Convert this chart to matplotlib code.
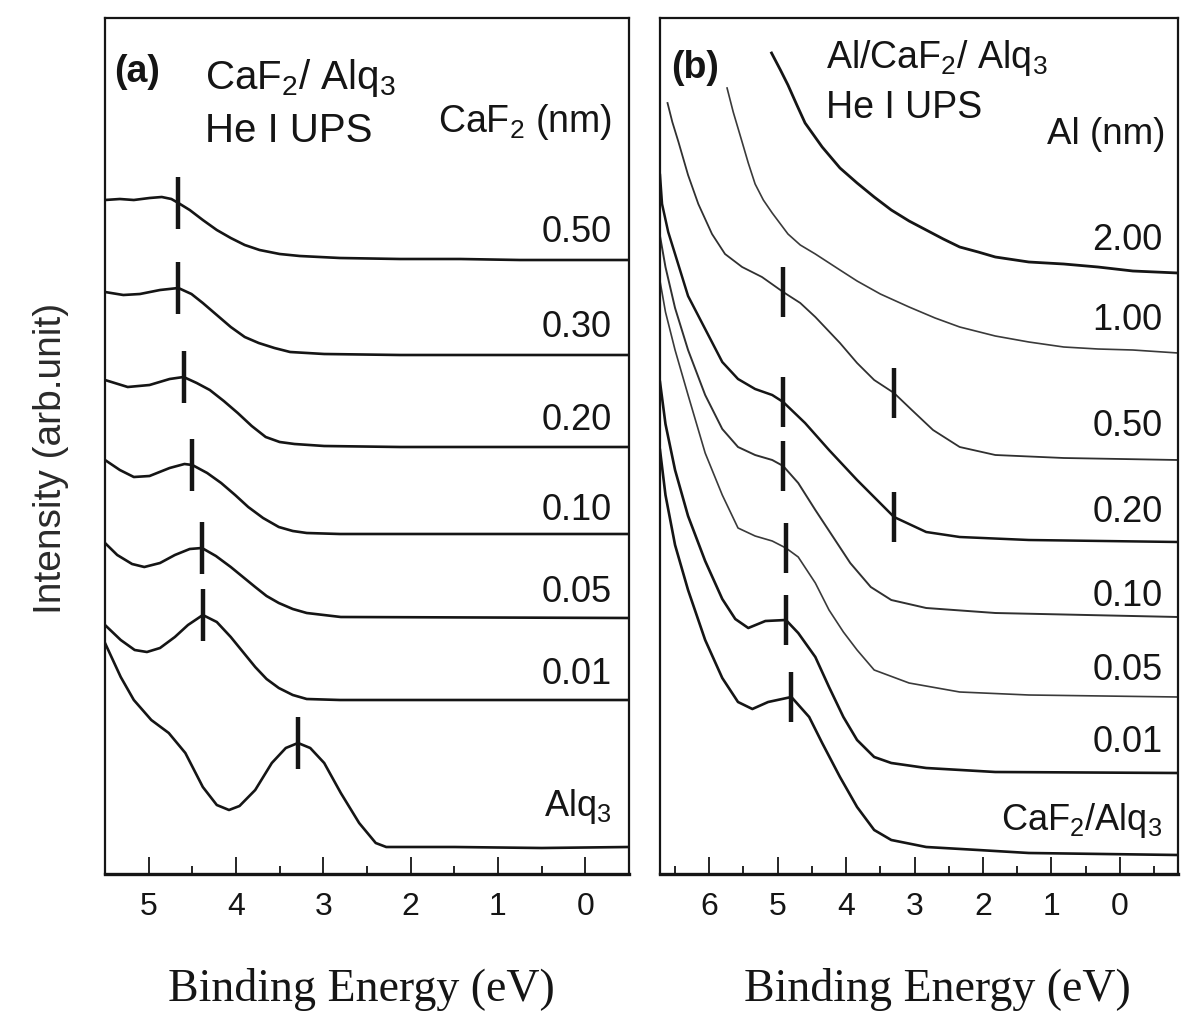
import numpy as np
import matplotlib
matplotlib.use('Agg')
import matplotlib.pyplot as plt

plt.rcParams['font.family'] = ['Liberation Sans', 'DejaVu Sans']
plt.rcParams['mathtext.default'] = 'regular'

# ---- panel (a): CaF2 on Alq3, binding energy (eV) vs intensity (arb.)
a_labels = ['0.50', '0.30', '0.20', '0.10', '0.05', '0.01', 'Alq$_3$']

a_050_be = [5.50, 5.33, 5.17, 4.99, 4.85, 4.74, 4.66, 4.53, 4.38, 4.22, 4.06, 3.90, 3.73, 3.50, 3.27, 2.81, 2.12, 1.43, 0.75, 0.06, -0.50]
a_050_int = [674, 675, 674, 676, 677, 675, 671, 664, 654, 644, 636, 629, 624, 620, 618, 616, 615, 615, 614, 614, 614]

a_030_be = [5.50, 5.29, 5.10, 4.87, 4.66, 4.51, 4.38, 4.22, 4.06, 3.90, 3.74, 3.56, 3.38, 2.99, 2.12, 0.97, -0.50]
a_030_int = [582, 579, 580, 584, 586, 580, 571, 559, 547, 537, 531, 526, 522, 520, 519, 519, 519]

a_020_be = [5.50, 5.24, 4.99, 4.76, 4.60, 4.45, 4.30, 4.14, 3.98, 3.82, 3.66, 3.50, 3.33, 2.99, 2.12, -0.50]
a_020_int = [494, 487, 489, 495, 497, 491, 484, 473, 461, 448, 437, 432, 430, 428, 427, 427]

a_010_be = [5.50, 5.33, 5.17, 4.99, 4.76, 4.59, 4.50, 4.33, 4.17, 4.01, 3.86, 3.69, 3.51, 3.35, 3.19, 2.81, -0.50]
a_010_int = [414, 404, 397, 398, 406, 410, 409, 401, 391, 379, 367, 356, 347, 343, 341, 340, 340]

a_005_be = [5.50, 5.36, 5.19, 5.05, 4.87, 4.70, 4.53, 4.39, 4.23, 4.06, 3.92, 3.78, 3.65, 3.51, 3.35, 3.19, 2.80, -0.50]
a_005_int = [331, 319, 310, 307, 311, 319, 325, 326, 318, 307, 297, 287, 278, 271, 265, 261, 257, 256]

a_001_be = [5.50, 5.32, 5.16, 5.02, 4.87, 4.70, 4.55, 4.38, 4.22, 4.06, 3.92, 3.78, 3.65, 3.51, 3.35, 3.19, 2.81, -0.50]
a_001_int = [249, 234, 224, 222, 226, 237, 249, 259, 252, 237, 222, 207, 195, 186, 179, 175, 174, 174]

a_alq_be = [5.50, 5.32, 5.17, 4.97, 4.77, 4.58, 4.38, 4.22, 4.08, 3.96, 3.78, 3.59, 3.43, 3.29, 3.15, 2.99, 2.80, 2.59, 2.40, 2.28, 1.50, 0.50, -0.50]
a_alq_int = [231, 197, 174, 154, 141, 121, 87, 69, 64, 68, 84, 111, 126, 131, 126, 111, 81, 51, 31, 27, 27, 26, 27]

a_marks = [4.66, 4.66, 4.60, 4.50, 4.39, 4.38, 3.29]

# ---- panel (b): Al on CaF2/Alq3
b_labels = ['2.00', '1.00', '0.50', '0.20', '0.10', '0.05', '0.01', 'CaF$_2$/Alq$_3$']

b_200_be = [5.09, 4.96, 4.85, 4.72, 4.60, 4.35, 4.09, 3.84, 3.59, 3.34, 3.08, 2.83, 2.58, 2.34, 2.07, 1.82, 1.33, 0.82, 0.32, -0.19, -0.85]
b_200_int = [821, 804, 789, 769, 751, 727, 706, 691, 677, 664, 653, 644, 635, 627, 622, 617, 612, 610, 607, 603, 601]

b_100_be = [5.74, 5.65, 5.52, 5.43, 5.33, 5.21, 5.08, 4.85, 4.67, 4.45, 4.09, 3.84, 3.50, 3.08, 2.70, 2.34, 1.82, 1.33, 0.82, 0.32, -0.19, -0.85]
b_100_int = [786, 762, 732, 711, 690, 674, 661, 640, 629, 620, 604, 593, 580, 567, 556, 547, 538, 532, 527, 525, 524, 521]

b_050_be = [6.61, 6.54, 6.45, 6.31, 6.16, 5.96, 5.77, 5.52, 5.23, 4.92, 4.67, 4.45, 4.09, 3.84, 3.59, 3.30, 3.04, 2.73, 2.34, 1.82, 0.82, -0.85]
b_050_int = [771, 752, 732, 699, 670, 640, 620, 607, 597, 582, 571, 557, 531, 511, 494, 481, 464, 444, 427, 419, 416, 414]

b_020_be = [6.72, 6.69, 6.60, 6.50, 6.31, 6.06, 5.81, 5.58, 5.33, 5.08, 4.92, 4.60, 4.25, 3.84, 3.30, 2.83, 2.34, 1.33, -0.85]
b_020_int = [699, 670, 642, 620, 578, 545, 512, 495, 485, 479, 472, 451, 424, 394, 357, 342, 337, 334, 332]

b_010_be = [6.72, 6.64, 6.50, 6.31, 6.06, 5.81, 5.58, 5.33, 5.08, 4.92, 4.70, 4.45, 4.19, 3.94, 3.64, 3.34, 2.83, 1.82, -0.85]
b_010_int = [638, 607, 566, 524, 479, 445, 427, 419, 414, 408, 391, 364, 337, 311, 287, 274, 266, 261, 257]

b_005_be = [6.72, 6.64, 6.50, 6.31, 6.06, 5.81, 5.58, 5.33, 5.08, 4.88, 4.70, 4.45, 4.25, 4.04, 3.84, 3.59, 3.08, 2.34, 1.33, -0.85]
b_005_int = [593, 562, 524, 479, 421, 379, 346, 338, 333, 326, 317, 291, 264, 242, 224, 204, 191, 182, 179, 177]

b_001_be = [6.72, 6.64, 6.50, 6.31, 6.06, 5.81, 5.62, 5.43, 5.18, 4.88, 4.70, 4.45, 4.25, 4.04, 3.84, 3.59, 3.34, 2.83, 1.82, -0.85]
b_001_int = [492, 450, 404, 358, 313, 275, 255, 246, 253, 254, 241, 217, 187, 157, 134, 117, 111, 106, 102, 101]

b_caf_be = [6.72, 6.64, 6.50, 6.31, 6.06, 5.81, 5.58, 5.37, 5.14, 4.80, 4.54, 4.35, 4.09, 3.84, 3.59, 3.34, 2.83, 2.07, 1.33, -0.85]
b_caf_int = [424, 379, 329, 284, 234, 196, 172, 165, 172, 177, 157, 131, 97, 67, 44, 34, 27, 24, 21, 19]

# (curve index, energy) of the vertical marks
b_marks = [(2, 4.92), (2, 3.30), (3, 4.92), (3, 3.30), (4, 4.92), (5, 4.88), (6, 4.88), (7, 4.80)]

a_curves = [(a_050_be, a_050_int), (a_030_be, a_030_int), (a_020_be, a_020_int),
            (a_010_be, a_010_int), (a_005_be, a_005_int), (a_001_be, a_001_int),
            (a_alq_be, a_alq_int)]
b_curves = [(b_200_be, b_200_int), (b_100_be, b_100_int), (b_050_be, b_050_int),
            (b_020_be, b_020_int), (b_010_be, b_010_int), (b_005_be, b_005_int),
            (b_001_be, b_001_int), (b_caf_be, b_caf_int)]

# label heights (same units as intensity)
a_label_y = [642, 547, 454, 364, 282, 199, 68]
b_label_y = [634, 554, 447, 361, 277, 204, 131, 53]

W, H = 1186, 1024
YTOP = 856
INK = '#151515'


def curveAt(curve, e):
    be, it = curve
    return np.interp(e, be[::-1], it[::-1])


def setupAxes(ax, xlim, majors):
    ax.set_xlim(*xlim)
    ax.set_ylim(0, YTOP)
    ax.set_xticks(majors)
    ax.set_xticks(np.arange(min(majors) - 0.5, max(majors) + 1.0, 0.5), minor=True)
    ax.set_yticks([])
    ax.tick_params(axis='x', which='major', direction='in', length=12, width=1.3,
                   pad=13, labelsize=23, colors=INK, top=False)
    ax.tick_params(axis='x', which='minor', direction='in', length=6, width=1.2, top=False)
    for side, sp in ax.spines.items():
        sp.set_linewidth(1.6)
        sp.set_color(INK)
    ax.spines['bottom'].set_linewidth(2.4)
    ax.set_xlabel('Binding Energy (eV)', family='Liberation Serif', fontsize=33, color=INK)


fig = plt.figure(figsize=(W / 100, H / 100), dpi=100)
ax_a = fig.add_axes([105 / W, 1 - 874 / H, (629 - 105) / W, (874 - 18) / H])
ax_b = fig.add_axes([660 / W, 1 - 874 / H, (1178 - 660) / W, (874 - 18) / H])

# panel (a)
setupAxes(ax_a, (5.5, -0.5), [5, 4, 3, 2, 1, 0])
for crv, lab, ly, mk in zip(a_curves, a_labels, a_label_y, a_marks):
    ax_a.plot(crv[0], crv[1], color=INK, lw=1.9)
    yc = curveAt(crv, mk)
    ax_a.plot([mk, mk], [yc - 26, yc + 26], color=INK, lw=3.2, solid_capstyle='butt')
    ax_a.text(0.967, ly, lab, transform=ax_a.get_yaxis_transform(), ha='right', va='center',
              fontsize=26, color=INK)

ax_a.text(0.017, 1 - (72 - 18) / 856, '(a)', transform=ax_a.transAxes, fontsize=27,
          fontweight='bold', ha='left', va='center', color=INK)
ax_a.text(0.19, 1 - (78 - 18) / 856, 'CaF$_2$/ Alq$_3$', transform=ax_a.transAxes, fontsize=29,
          ha='left', va='center', color=INK)
ax_a.text(0.19, 1 - (131 - 18) / 856, 'He I UPS', transform=ax_a.transAxes, fontsize=29,
          ha='left', va='center', color=INK)
ax_a.text(0.967, 1 - (122 - 18) / 856, 'CaF$_2$ (nm)', transform=ax_a.transAxes, fontsize=27,
          ha='right', va='center', color=INK)

ax_a.set_ylabel('Intensity (arb.unit)', fontsize=28, color='#2a2a2a')
ax_a.yaxis.set_label_coords(-0.068, 0.485)
ax_a.xaxis.set_label_coords(0.49, -0.11)

# panel (b)
setupAxes(ax_b, (6.72, -0.85), [6, 5, 4, 3, 2, 1, 0])
b_widths = [2.0, 1.2, 1.3, 1.8, 1.4, 1.2, 1.9, 1.9]
b_colors = [INK, '#3a3a3a', '#303030', INK, '#303030', '#3a3a3a', INK, INK]
for crv, lab, ly, lw, c in zip(b_curves, b_labels, b_label_y, b_widths, b_colors):
    ax_b.plot(crv[0], crv[1], color=c, lw=lw)
    ax_b.text(0.97, ly, lab, transform=ax_b.get_yaxis_transform(), ha='right', va='center',
              fontsize=26, color=INK)
for idx, mk in b_marks:
    yc = curveAt(b_curves[idx], mk)
    ax_b.plot([mk, mk], [yc - 25, yc + 25], color=INK, lw=3.2, solid_capstyle='butt')

ax_b.text(0.021, 1 - (68 - 18) / 856, '(b)', transform=ax_b.transAxes, fontsize=27,
          fontweight='bold', ha='left', va='center', color=INK)
ax_b.text(0.32, 1 - (58 - 18) / 856, 'Al/CaF$_2$/ Alq$_3$', transform=ax_b.transAxes,
          fontsize=27, ha='left', va='center', color=INK)
ax_b.text(0.32, 1 - (108 - 18) / 856, 'He I UPS', transform=ax_b.transAxes, fontsize=27,
          ha='left', va='center', color=INK)
ax_b.text(0.975, 1 - (135 - 18) / 856, 'Al (nm)', transform=ax_b.transAxes, fontsize=26.5,
          ha='right', va='center', color=INK)
ax_b.xaxis.set_label_coords(0.535, -0.11)

fig.savefig('out.png', dpi=100)
